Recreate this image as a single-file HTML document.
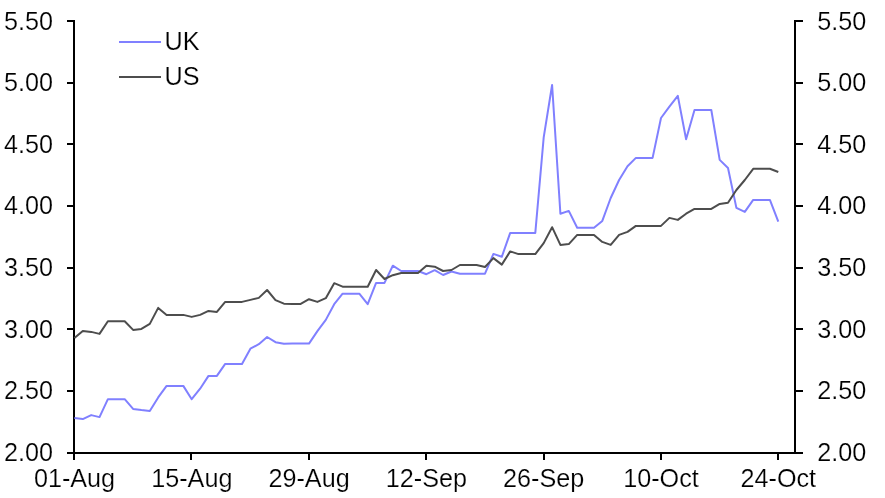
<!DOCTYPE html>
<html><head><meta charset="utf-8"><title>UK vs US yields</title>
<style>html,body{margin:0;padding:0;background:#fff}svg{display:block}text{font-family:"Liberation Sans",Arial,sans-serif;font-size:25.2px;fill:#000;stroke:#fff;stroke-width:0.2px;paint-order:fill stroke}</style></head><body>
<svg width="885" height="498" viewBox="0 0 885 498">
<rect width="885" height="498" fill="#fff"/>
<g stroke="#000" stroke-width="2" fill="none" shape-rendering="crispEdges">
<line x1="74" y1="20" x2="74" y2="454"/>
<line x1="795" y1="20" x2="795" y2="454"/>
<line x1="67" y1="453" x2="803" y2="453"/>
<line x1="67" y1="21.0" x2="74" y2="21.0"/>
<line x1="795" y1="21.0" x2="803" y2="21.0"/>
<line x1="67" y1="83.0" x2="74" y2="83.0"/>
<line x1="795" y1="83.0" x2="803" y2="83.0"/>
<line x1="67" y1="144.0" x2="74" y2="144.0"/>
<line x1="795" y1="144.0" x2="803" y2="144.0"/>
<line x1="67" y1="206.0" x2="74" y2="206.0"/>
<line x1="795" y1="206.0" x2="803" y2="206.0"/>
<line x1="67" y1="268.0" x2="74" y2="268.0"/>
<line x1="795" y1="268.0" x2="803" y2="268.0"/>
<line x1="67" y1="329.0" x2="74" y2="329.0"/>
<line x1="795" y1="329.0" x2="803" y2="329.0"/>
<line x1="67" y1="391.0" x2="74" y2="391.0"/>
<line x1="795" y1="391.0" x2="803" y2="391.0"/>
<line x1="74.0" y1="453" x2="74.0" y2="460"/>
<line x1="191.0" y1="453" x2="191.0" y2="460"/>
<line x1="309.0" y1="453" x2="309.0" y2="460"/>
<line x1="426.0" y1="453" x2="426.0" y2="460"/>
<line x1="544.0" y1="453" x2="544.0" y2="460"/>
<line x1="661.0" y1="453" x2="661.0" y2="460"/>
<line x1="778.0" y1="453" x2="778.0" y2="460"/>
</g>
<polyline fill="none" stroke="#8080ff" stroke-width="2" stroke-linejoin="round" points="74.4,417.9 82.8,419.1 91.2,415.1 99.5,417.1 107.9,399.2 116.3,399.2 124.7,399.2 133.1,408.9 141.4,410.1 149.8,411.1 158.2,397.4 166.6,385.9 175.0,385.9 183.3,385.9 191.7,399.2 200.1,388.7 208.5,375.9 216.9,375.9 225.2,363.9 233.6,363.9 242.0,363.9 250.4,348.7 258.8,344.2 267.1,337.0 275.5,342.2 283.9,343.8 292.3,343.6 300.7,343.6 309.0,343.6 317.4,331.1 325.8,319.9 334.2,304.2 342.6,293.7 350.9,293.7 359.3,293.7 367.7,304.2 376.1,282.9 384.5,282.9 392.8,265.7 401.2,271.0 409.6,271.0 418.0,271.0 426.4,274.2 434.7,270.2 443.1,275.0 451.5,271.5 459.9,273.7 468.3,273.7 476.6,273.7 485.0,273.7 493.4,253.9 501.8,256.8 510.2,232.9 518.5,232.9 526.9,232.9 535.3,232.9 543.7,137.4 552.1,85.0 560.4,213.7 568.8,210.9 577.2,227.7 585.6,227.7 594.0,227.7 602.3,220.9 610.7,198.0 619.1,180.0 627.5,166.2 635.9,157.9 644.2,157.9 652.6,157.9 661.0,118.0 669.4,106.6 677.8,95.9 686.1,139.2 694.5,110.0 702.9,110.0 711.3,110.0 719.7,159.9 728.0,168.0 736.4,207.9 744.8,211.9 753.2,199.9 761.6,199.9 769.9,199.9 778.3,221.7"/>
<polyline fill="none" stroke="#4d4d4d" stroke-width="2" stroke-linejoin="round" points="74.4,338.1 82.8,330.9 91.2,331.9 99.5,333.9 107.9,321.2 116.3,321.2 124.7,321.2 133.1,329.9 141.4,328.9 149.8,323.9 158.2,307.9 166.6,314.9 175.0,314.9 183.3,314.9 191.7,316.9 200.1,314.9 208.5,310.9 216.9,311.9 225.2,301.9 233.6,301.9 242.0,301.9 250.4,299.9 258.8,297.9 267.1,290.0 275.5,300.2 283.9,303.7 292.3,303.9 300.7,303.9 309.0,299.2 317.4,301.9 325.8,298.2 334.2,283.2 342.6,286.7 350.9,286.7 359.3,286.7 367.7,286.7 376.1,270.0 384.5,279.0 392.8,275.2 401.2,273.0 409.6,273.0 418.0,273.0 426.4,265.7 434.7,266.7 443.1,271.0 451.5,270.0 459.9,265.0 468.3,265.0 476.6,265.0 485.0,267.0 493.4,258.1 501.8,264.6 510.2,251.4 518.5,254.1 526.9,254.1 535.3,254.1 543.7,243.1 552.1,227.2 560.4,244.9 568.8,244.1 577.2,234.9 585.6,234.9 594.0,234.9 602.3,241.9 610.7,244.9 619.1,234.9 627.5,231.9 635.9,225.9 644.2,225.9 652.6,225.9 661.0,225.9 669.4,217.9 677.8,219.9 686.1,213.7 694.5,208.9 702.9,208.9 711.3,208.9 719.7,203.9 728.0,202.7 736.4,190.0 744.8,180.0 753.2,168.8 761.6,168.8 769.9,168.8 778.3,172.0"/>
<text x="52.95" y="29.9" text-anchor="end">5.50</text>
<text x="817.3" y="29.9">5.50</text>
<text x="52.95" y="90.9" text-anchor="end">5.00</text>
<text x="817.3" y="90.9">5.00</text>
<text x="52.95" y="152.9" text-anchor="end">4.50</text>
<text x="817.3" y="152.9">4.50</text>
<text x="52.95" y="213.9" text-anchor="end">4.00</text>
<text x="817.3" y="213.9">4.00</text>
<text x="52.95" y="275.9" text-anchor="end">3.50</text>
<text x="817.3" y="275.9">3.50</text>
<text x="52.95" y="337.9" text-anchor="end">3.00</text>
<text x="817.3" y="337.9">3.00</text>
<text x="52.95" y="398.9" text-anchor="end">2.50</text>
<text x="817.3" y="398.9">2.50</text>
<text x="52.95" y="460.9" text-anchor="end">2.00</text>
<text x="817.3" y="460.9">2.00</text>
<text x="74.5" y="486.8" text-anchor="middle">01-Aug</text>
<text x="191.8" y="486.8" text-anchor="middle">15-Aug</text>
<text x="309.1" y="486.8" text-anchor="middle">29-Aug</text>
<text x="426.4" y="486.8" text-anchor="middle">12-Sep</text>
<text x="543.7" y="486.8" text-anchor="middle">26-Sep</text>
<text x="661.0" y="486.8" text-anchor="middle">10-Oct</text>
<text x="778.3" y="486.8" text-anchor="middle">24-Oct</text>
<line x1="119" y1="42" x2="161" y2="42" stroke="#8080ff" stroke-width="2"/>
<line x1="119" y1="77" x2="161" y2="77" stroke="#4d4d4d" stroke-width="2"/>
<text x="164.6" y="50.1">UK</text>
<text x="164.6" y="85.1">US</text>
</svg></body></html>
